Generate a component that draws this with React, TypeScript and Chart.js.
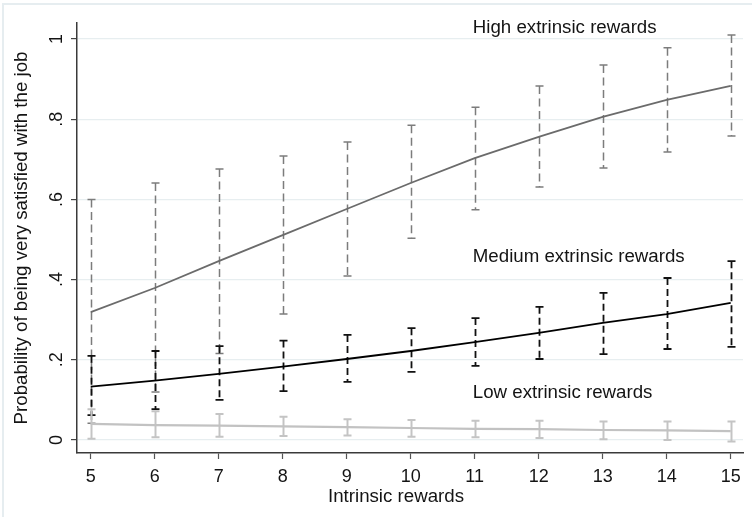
import React, { useEffect, useRef } from "react";
import { Chart, registerables } from "chart.js";

Chart.register(...registerables);

// ---- data ----
const xValues = [5, 6, 7, 8, 9, 10, 11, 12, 13, 14, 15];

const highMean = [0.319, 0.379, 0.446, 0.511, 0.576, 0.641, 0.703, 0.756, 0.806, 0.848, 0.883];
const highUpper = [0.6, 0.641, 0.676, 0.708, 0.743, 0.785, 0.83, 0.883, 0.935, 0.978, 1.01];
const highLower = [0.042, 0.12, 0.216, 0.314, 0.409, 0.503, 0.574, 0.631, 0.678, 0.718, 0.758];

const mediumMean = [0.133, 0.148, 0.165, 0.183, 0.202, 0.222, 0.244, 0.267, 0.292, 0.314, 0.342];
const mediumUpper = [0.21, 0.222, 0.234, 0.248, 0.262, 0.279, 0.304, 0.332, 0.367, 0.404, 0.446];
const mediumLower = [0.062, 0.077, 0.1, 0.122, 0.145, 0.17, 0.185, 0.202, 0.214, 0.227, 0.232];

const lowMean = [0.04, 0.037, 0.036, 0.034, 0.032, 0.03, 0.028, 0.027, 0.025, 0.024, 0.022];
const lowUpper = [0.077, 0.072, 0.065, 0.058, 0.052, 0.05, 0.048, 0.048, 0.046, 0.046, 0.046];
const lowLower = [0.003, 0.007, 0.008, 0.01, 0.011, 0.008, 0.007, 0.005, 0.002, 0.0, -0.004];

const xTickValues = [5, 6, 7, 8, 9, 10, 11, 12, 13, 14, 15];
const yTickValues = [0, 0.2, 0.4, 0.6, 0.8, 1];
const yTickLabels = ["0", ".2", ".4", ".6", ".8", "1"];

const seriesLabels = ["High extrinsic rewards", "Medium extrinsic rewards", "Low extrinsic rewards"];
const labelX = [10.97, 10.97, 10.97];
const labelY = [1.027, 0.457, 0.117];

const xTitle = "Intrinsic rewards";
const yTitle = "Probability of being very satisfied with the job";

// ---- styles ----
const FONT = '"Liberation Sans", Arial, Helvetica, sans-serif';
const TEXT = "#141414";

const ciStyles = [
  { color: "#7c7c7c", dash: [8, 4.5], width: 1.5, cap: 4 },
  { color: "#111111", dash: [7, 4], width: 1.8, cap: 4 },
  { color: "#c4c4c4", dash: [] as number[], width: 2, cap: 4 },
];
const ciData = [
  { lower: highLower, upper: highUpper },
  { lower: mediumLower, upper: mediumUpper },
  { lower: lowLower, upper: lowUpper },
];

const toPoints = (ys: number[]) => xValues.map((x, i) => ({ x, y: ys[i] }));

const framePlugin = {
  id: "frame",
  beforeDraw(chart: any) {
    const ctx = chart.ctx;
    ctx.save();
    ctx.fillStyle = "#ffffff";
    ctx.fillRect(0, 0, chart.width, chart.height);
    ctx.strokeStyle = "#e6edf0";
    ctx.lineWidth = 2;
    ctx.beginPath();
    ctx.moveTo(3, chart.height);
    ctx.lineTo(3, 4);
    ctx.lineTo(chart.width, 4);
    ctx.stroke();
    ctx.restore();
  },
};

const ciPlugin = {
  id: "ciBars",
  beforeDatasetsDraw(chart: any) {
    const ctx = chart.ctx;
    const xs = chart.scales.x;
    const ys = chart.scales.y;
    ciData.forEach((s, k) => {
      const st = ciStyles[k];
      ctx.save();
      ctx.strokeStyle = st.color;
      ctx.lineWidth = st.width;
      xValues.forEach((xv, i) => {
        const px = Math.round(xs.getPixelForValue(xv)) + 0.5;
        const pu = ys.getPixelForValue(s.upper[i]);
        const pl = ys.getPixelForValue(s.lower[i]);
        ctx.setLineDash(st.dash);
        ctx.beginPath();
        ctx.moveTo(px, pu);
        ctx.lineTo(px, pl);
        ctx.stroke();
        ctx.setLineDash([]);
        ctx.beginPath();
        ctx.moveTo(px - st.cap, pu);
        ctx.lineTo(px + st.cap, pu);
        ctx.moveTo(px - st.cap, pl);
        ctx.lineTo(px + st.cap, pl);
        ctx.stroke();
      });
      ctx.restore();
    });
  },
};

const textPlugin = {
  id: "texts",
  afterDraw(chart: any) {
    const ctx = chart.ctx;
    const xs = chart.scales.x;
    const ys = chart.scales.y;
    const area = chart.chartArea;
    ctx.save();
    ctx.fillStyle = TEXT;
    ctx.textBaseline = "middle";
    // rotated y tick labels
    ctx.font = `18px ${FONT}`;
    ctx.textAlign = "center";
    yTickValues.forEach((v, i) => {
      const py = ys.getPixelForValue(v);
      ctx.save();
      ctx.translate(57, py);
      ctx.rotate(-Math.PI / 2);
      ctx.fillText(yTickLabels[i], 0, 0);
      ctx.restore();
    });
    // axis titles
    ctx.font = `18.7px ${FONT}`;
    ctx.fillText(xTitle, (area.left + area.right) / 2 - 14, 497);
    ctx.save();
    ctx.translate(22, (area.top + area.bottom) / 2);
    ctx.rotate(-Math.PI / 2);
    ctx.fillText(yTitle, 0, 0);
    ctx.restore();
    // series annotations
    ctx.textAlign = "left";
    seriesLabels.forEach((t, i) => {
      ctx.fillText(t, xs.getPixelForValue(labelX[i]), ys.getPixelForValue(labelY[i]));
    });
    ctx.restore();
  },
};

export default function App() {
  const ref = useRef<HTMLCanvasElement | null>(null);

  useEffect(() => {
    if (!ref.current) return;
    const chart = new Chart(ref.current, {
      type: "line",
      data: {
        datasets: [
          {
            label: seriesLabels[0],
            data: toPoints(highMean),
            borderColor: "#6b6b6b",
            borderWidth: 1.8,
            pointRadius: 0,
            tension: 0,
          },
          {
            label: seriesLabels[1],
            data: toPoints(mediumMean),
            borderColor: "#000000",
            borderWidth: 1.8,
            pointRadius: 0,
            tension: 0,
          },
          {
            label: seriesLabels[2],
            data: toPoints(lowMean),
            borderColor: "#c2c2c2",
            borderWidth: 2.2,
            pointRadius: 0,
            tension: 0,
          },
        ],
      },
      options: {
        responsive: false,
        animation: false,
        events: [],
        layout: { padding: { top: 23, right: 9, left: 0, bottom: 0 } },
        plugins: {
          legend: { display: false },
          tooltip: { enabled: false },
        },
        scales: {
          x: {
            type: "linear",
            min: 4.786,
            max: 15.192,
            afterBuildTicks: (scale: any) => {
              scale.ticks = xTickValues.map((v) => ({ value: v }));
            },
            afterFit: (scale: any) => {
              scale.height = 64;
            },
            ticks: {
              autoSkip: false,
              maxRotation: 0,
              minRotation: 0,
              padding: 7,
              color: TEXT,
              font: { family: FONT, size: 18 },
              callback: (v: any) => String(v),
            },
            grid: {
              drawOnChartArea: false,
              drawTicks: true,
              tickLength: 6,
              tickColor: "#555555",
              tickWidth: 1.2,
            },
            border: { display: true, color: "#3a3a3a", width: 1.5 },
            title: { display: false },
          },
          y: {
            type: "linear",
            min: -0.0324,
            max: 1.0399,
            afterBuildTicks: (scale: any) => {
              scale.ticks = yTickValues.map((v) => ({ value: v }));
            },
            afterFit: (scale: any) => {
              scale.width = 77;
            },
            ticks: { display: false },
            grid: {
              drawOnChartArea: true,
              drawTicks: true,
              tickLength: 6,
              color: "#e7eef0",
              lineWidth: 1.2,
              tickColor: "#444444",
              tickWidth: 1.2,
            },
            border: { display: true, color: "#3a3a3a", width: 1.5 },
            title: { display: false },
          },
        },
      },
      plugins: [framePlugin, ciPlugin, textPlugin],
    } as any);
    return () => chart.destroy();
  }, []);

  return (
    <div style={{ position: "fixed", left: 0, top: 0, width: 752, height: 517 }}>
      <canvas ref={ref} width={752} height={517} style={{ width: 752, height: 517, display: "block" }} />
    </div>
  );
}
